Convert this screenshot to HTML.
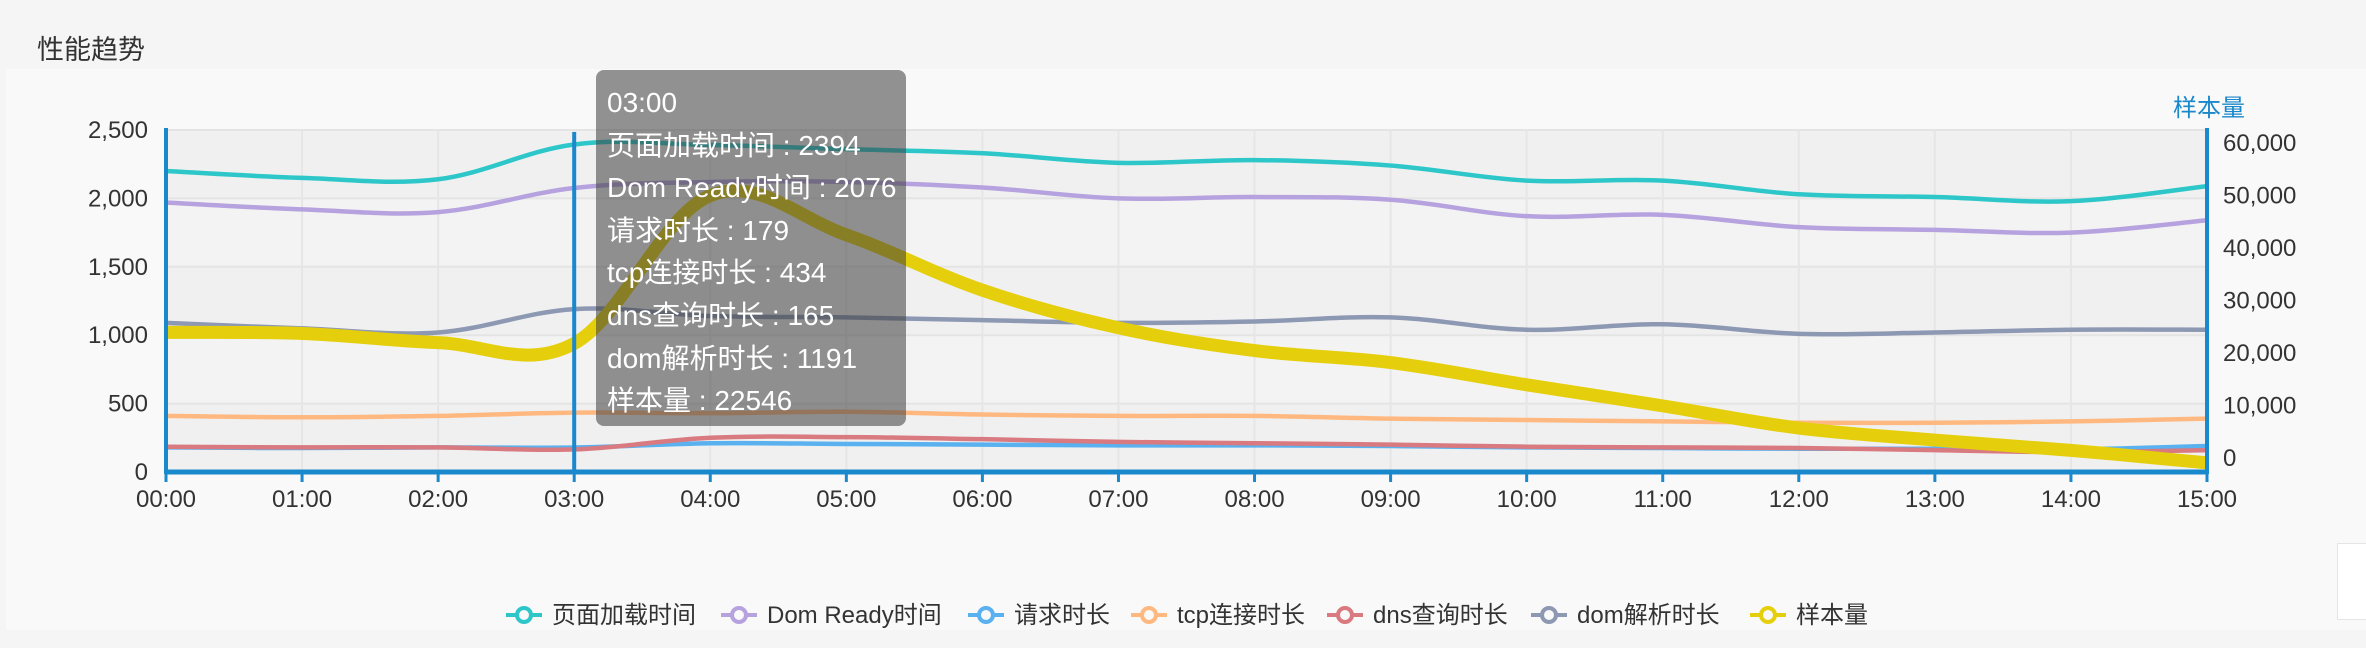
<!DOCTYPE html>
<html><head><meta charset="utf-8">
<style>
body{margin:0;width:2366px;height:648px;overflow:hidden;background:#f5f5f5;font-family:"Liberation Sans","Noto Sans CJK SC",sans-serif;}
#wrap{position:relative;width:2366px;height:648px;}
#title{position:absolute;left:37px;top:28px;font-size:27px;color:#333;}
#panel{position:absolute;left:6px;top:69px;width:2360px;height:561px;background:#f9f9f9;}
#tip{position:absolute;left:596px;top:70px;width:310px;height:356px;border-radius:8px;background:rgba(60,60,60,0.55);color:#fff;font-size:28px;box-sizing:border-box;padding:12px 0 0 11px;line-height:42.6px;white-space:nowrap;}
#wbox{position:absolute;left:2337px;top:543px;width:40px;height:75px;background:#fff;border:1px solid #e5e5e5;}
</style></head>
<body><div id="wrap">
<div id="title">性能趋势</div>
<div id="panel"></div>
<div id="wbox"></div>
<svg id="svg" width="2366" height="648" style="position:absolute;left:0;top:0"></svg>
<div id="tip">
<div>03:00</div><div>页面加载时间 : 2394</div><div>Dom Ready时间 : 2076</div><div>请求时长 : 179</div><div>tcp连接时长 : 434</div><div>dns查询时长 : 165</div><div>dom解析时长 : 1191</div><div>样本量 : 22546</div>
</div>
</div>
<script>
const categories=["00:00","01:00","02:00","03:00","04:00","05:00","06:00","07:00","08:00","09:00","10:00","11:00","12:00","13:00","14:00","15:00"];
const seriesNames=["页面加载时间","Dom Ready时间","请求时长","tcp连接时长","dns查询时长","dom解析时长","样本量"];
const pageLoad=[2200,2150,2140,2394,2390,2360,2330,2260,2280,2240,2130,2130,2030,2010,1980,2090];
const domReady=[1970,1920,1900,2076,2120,2120,2080,2000,2010,1990,1870,1880,1790,1770,1750,1840];
const request=[180,175,180,179,210,205,200,195,195,190,180,175,170,170,165,190];
const tcp=[410,400,410,434,430,440,420,410,410,390,380,370,360,360,370,390];
const dns=[185,180,180,165,250,255,240,220,210,200,185,180,175,160,145,160];
const domParse=[1090,1050,1020,1191,1140,1130,1110,1090,1100,1130,1040,1080,1010,1020,1040,1040];
const samples=[24500,24300,22700,22546,48500,41600,31900,25300,21300,19200,15300,11600,7700,5600,3800,1600];
const leftTicks=[0,500,1000,1500,2000,2500];
const rightTicks=[0,10000,20000,30000,40000,50000,60000];
const colors=["#2ec7c9","#b6a2de","#5ab1ef","#ffb980","#d87a80","#8d98b3","#e5cf0d"];

const X0=166,X1=2207,Y0=472,Y1=130;
const xs=i=>X0+(X1-X0)*i/(categories.length-1);
const yl=v=>Y0-(Y0-Y1)*v/2500;
const yr=v=>Y0-(Y0-Y1)*v/60000;
const svg=document.getElementById('svg');
const NS='http://www.w3.org/2000/svg';
function mk(t,a,p){const e=document.createElementNS(NS,t);for(const k in a)e.setAttribute(k,a[k]);(p||svg).appendChild(e);return e;}
for(let i=0;i<leftTicks.length-1;i++){
 const r=mk('rect',{x:X0,y:yl(leftTicks[i+1]),width:X1-X0,height:yl(leftTicks[i])-yl(leftTicks[i+1]),fill:i%2?'#f3f3f3':'#f0f0f0'});
 
}
leftTicks.forEach(v=>{const l=mk('line',{x1:X0,x2:X1,y1:yl(v),y2:yl(v),stroke:'#e4e4e4','stroke-width':2});
 });
categories.forEach((c,i)=>{const l=mk('line',{x1:xs(i),x2:xs(i),y1:Y1,y2:Y0,stroke:'#e6e6e6','stroke-width':2});
 
 const t=mk('line',{x1:xs(i),x2:xs(i),y1:Y0,y2:Y0+10,stroke:'#1a88cc','stroke-width':3});
 
 const tx=mk('text',{x:xs(i),y:Y0+35,'text-anchor':'middle','font-size':24,fill:'#333'});tx.textContent=c;
 });
leftTicks.forEach(v=>{const t=mk('text',{x:X0-18,y:yl(v)+8,'text-anchor':'end','font-size':24,fill:'#333'});t.textContent=v.toLocaleString('en-US');
 });
rightTicks.forEach(v=>{const y=457-(457-142)*v/60000;const t=mk('text',{x:X1+16,y:y+9,'font-size':24,fill:'#333'});t.textContent=v.toLocaleString('en-US');
 });
const rt=mk('text',{x:2209,y:116,'text-anchor':'middle','font-size':24,fill:'#1a88cc'});rt.textContent='样本量';

function path(pts){let d='M'+pts[0][0]+','+pts[0][1];const t=0.35;
 for(let i=0;i<pts.length-1;i++){const p0=pts[i-1]||pts[i],p1=pts[i],p2=pts[i+1],p3=pts[i+2]||p2;
  d+=' C'+(p1[0]+(p2[0]-p0[0])*t/2)+','+(p1[1]+(p2[1]-p0[1])*t/2)+' '+(p2[0]-(p3[0]-p1[0])*t/2)+','+(p2[1]-(p3[1]-p1[1])*t/2)+' '+p2[0]+','+p2[1];}
 return d;}
const all=[pageLoad,domReady,request,tcp,dns,domParse];
all.forEach((s,k)=>{const p=mk('path',{d:path(s.map((v,i)=>[xs(i),yl(v)])),fill:'none',stroke:colors[k],'stroke-width':4.5});
 });
const sp=mk('path',{d:path(samples.map((v,i)=>[xs(i),yr(v)])),fill:'none',stroke:colors[6],'stroke-width':13});

let a=mk('line',{x1:X0,x2:X0,y1:Y1-2,y2:Y0+2,stroke:'#1a88cc','stroke-width':4});
a=mk('line',{x1:X1,x2:X1,y1:Y1-2,y2:Y0+2,stroke:'#1a88cc','stroke-width':4});
a=mk('line',{x1:X0,x2:X1,y1:Y0,y2:Y0,stroke:'#1a88cc','stroke-width':5});
a=mk('line',{x1:xs(3),x2:xs(3),y1:Y1+2,y2:Y0,stroke:'#1a88cc','stroke-width':4});
const legX=[552,767,1014,1177,1373,1577,1796];
seriesNames.forEach((n,k)=>{const g=mk('g',{});
 const x=legX[k];mk('line',{x1:x-46,x2:x-10,y1:615,y2:615,stroke:colors[k],'stroke-width':4},g);
 mk('circle',{cx:x-28,cy:615,r:7,fill:'#f9f9f9',stroke:colors[k],'stroke-width':4},g);
 const t=mk('text',{x:x,y:623,'font-size':24,fill:'#333'},g);t.textContent=n;});
</script>
</body></html>
